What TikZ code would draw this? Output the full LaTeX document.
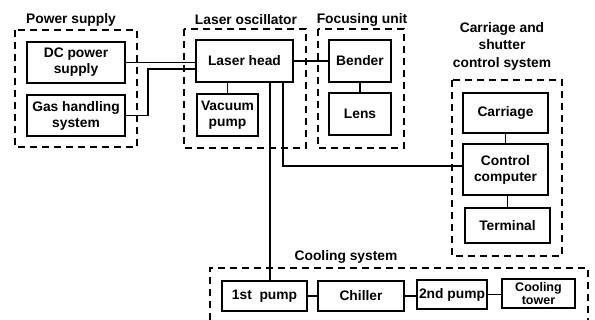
\documentclass[tikz,border=0pt]{standalone}
\usepackage{fontspec}
\setmainfont{Liberation Sans}
\usetikzlibrary{positioning}

\begin{document}
\begin{tikzpicture}[x=1pt,y=-1pt,
    unit/.style={draw,line width=1.2pt,inner sep=1pt,align=center,
      font=\fontsize{13.8}{16}\selectfont\bfseries},
    group/.style={draw,dashed,line width=1.2pt,dash pattern=on 7pt off 5pt},
    caption/.style={align=center,font=\fontsize{13.8}{17.5}\selectfont\bfseries},
    wire/.style={line width=1.2pt}]
  \useasboundingbox (0,0) rectangle (595,320);
  % group frames and titles
  \draw[group] (15,30) rectangle (137,147);
  \draw[group] (184,29) rectangle (306,148);
  \draw[group] (318,29) rectangle (404,148);
  \draw[group] (452,80) rectangle (562,256);
  \draw[group] (210,320) |- (588,268) -- (588,320);
  \node[caption] (tpower) at (71,20) {Power supply};
  \node[caption] (tlaser) at (246,20) {Laser oscillator};
  \node[caption] (tfocus) at (362,20) {Focusing unit};
  \node[caption] (tcarr) at (502,46) {Carriage and\\shutter\\control system};
  \node[caption] (tcool) at (346,257) {Cooling system};
  % units
  \node[unit,minimum width=98pt,minimum height=41pt] (dc) at (76,62.5) {DC power\\supply};
  \node[unit,minimum width=98pt,minimum height=41pt] (gas) at (76,115.5) {Gas handling\\system};
  \node[unit,minimum width=97pt,minimum height=42pt] (head) at (244.5,61) {Laser head};
  \node[unit,minimum width=61pt,minimum height=42pt] (vac) at (227.5,115) {Vacuum\\pump};
  \node[unit,minimum width=62pt,minimum height=42pt] (bender) at (360,61) {Bender};
  \node[unit,minimum width=62pt,minimum height=42pt] (lens) at (360,114) {Lens};
  \node[unit,minimum width=85pt,minimum height=40pt] (carr) at (505.5,113) {Carriage};
  \node[unit,minimum width=85pt,minimum height=51pt] (ctrl) at (505.5,169.5) {Control\\computer};
  \node[unit,minimum width=85pt,minimum height=35pt] (term) at (507.5,225.5) {Terminal};
  \node[unit,minimum width=85pt,minimum height=30pt] (pumpA) at (264.5,296) {1st\ \ pump};
  \node[unit,minimum width=86pt,minimum height=30pt] (chill) at (361,296) {Chiller};
  \node[unit,minimum width=70pt,minimum height=29pt,inner sep=0pt] (pumpB) at (452,294.5) {2nd pump};
  \node[unit,minimum width=73pt,minimum height=29pt,
    font=\fontsize{12.5}{12.5}\selectfont\bfseries] (tower) at (538.5,293.5) {Cooling\\tower};
  % connections
  \coordinate (gasbend) at (148,69);
  \coordinate (tapA) at (270,82);
  \coordinate (tapB) at (283,82);
  \draw[wire] (dc) -- (dc -| head.west);
  \draw[wire] (gas.east) -| (gasbend) -- (gasbend -| head.west);
  \draw[wire] (vac) -- (vac |- head.south);
  \draw[wire] (head) -- (bender);
  \draw[wire] (bender) -- (lens);
  \draw[wire] (tapA) -- (tapA |- pumpA.north);
  \draw[wire] (tapB) |- ([yshift=3.5pt]ctrl.west);
  \draw[wire] (carr) -- (carr |- ctrl.north);
  \draw[wire] (term) -- (term |- ctrl.south);
  \draw[wire] (pumpA) -- (chill);
  \draw[wire] (chill) -- (chill -| pumpB.west);
  \draw[wire] (pumpB) -- (pumpB -| tower.west);
\end{tikzpicture}
\end{document}
